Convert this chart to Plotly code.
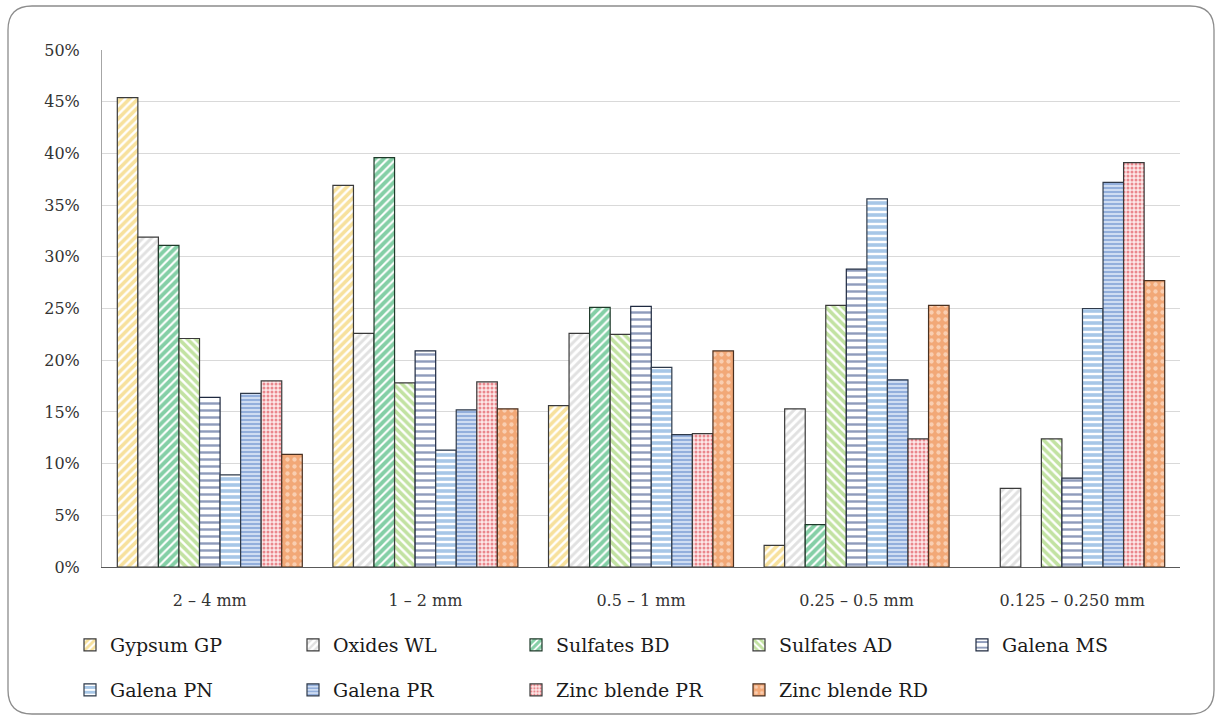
import plotly.graph_objects as go

categories = ["2 – 4 mm", "1 – 2 mm", "0.5 – 1 mm", "0.25 – 0.5 mm", "0.125 – 0.250 mm"]
series_names = ["Gypsum GP", "Oxides WL", "Sulfates BD", "Sulfates AD", "Galena MS",
                "Galena PN", "Galena PR", "Zinc blende PR", "Zinc blende RD"]
gypsum_gp = [45.4, 36.9, 15.6, 2.1, None]
oxides_wl = [31.9, 22.6, 22.6, 15.3, 7.6]
sulfates_bd = [31.1, 39.6, 25.1, 4.1, None]
sulfates_ad = [22.1, 17.8, 22.5, 25.3, 12.4]
galena_ms = [16.4, 20.9, 25.2, 28.8, 8.6]
galena_pn = [8.9, 11.3, 19.3, 35.6, 25.0]
galena_pr = [16.8, 15.2, 12.8, 18.1, 37.2]
zinc_pr = [18.0, 17.9, 12.9, 12.4, 39.1]
zinc_rd = [10.9, 15.3, 20.9, 25.3, 27.7]
y_ticks = [0, 5, 10, 15, 20, 25, 30, 35, 40, 45, 50]
y_tick_labels = ["0%", "5%", "10%", "15%", "20%", "25%", "30%", "35%", "40%", "45%", "50%"]

values = [gypsum_gp, oxides_wl, sulfates_bd, sulfates_ad, galena_ms,
          galena_pn, galena_pr, zinc_pr, zinc_rd]

# (shape, bgcolor, fgcolor, size, solidity, outline)
styles = [
    ("/", "#FFFFFF", "#F0C33C", 6, 0.6, "#3a3a3a"),
    ("/", "#FFFFFF", "#C4C4C4", 6, 0.5, "#3a3a3a"),
    ("/", "#FFFFFF", "#0AA04E", 6, 0.65, "#1f3a2a"),
    ("\\", "#FFFFFF", "#86C645", 6, 0.6, "#3a3a3a"),
    ("-", "#FFFFFF", "#1F3A78", 7, 0.35, "#1f2a40"),
    ("-", "#FFFFFF", "#4F8FD0", 6, 0.6, "#2f3a4a"),
    ("-", "#D6E2F4", "#4F7BC4", 4, 0.55, "#2f3a4a"),
    (".", "#FCE8E8", "#D82632", 4, 0.45, "#3a3a3a"),
    (".", "#F2A877", "#FFF4EC", 7, 0.3, "#4a3020"),
]

fig = go.Figure()
for i, (name, vals, st) in enumerate(zip(series_names, values, styles)):
    shape, bg, fg, size, sol, outline = st
    fig.add_trace(go.Bar(
        name=name, x=categories, y=vals,
        marker=dict(color=bg, line=dict(color=outline, width=1.2),
                    pattern=dict(shape=shape, bgcolor=bg, fgcolor=fg, size=size,
                                 solidity=sol, fillmode="overlay")),
        legend="legend" if i < 5 else "legend2",
        hoverinfo="skip",
    ))

ML, MR, MT, MB = 102, 36, 50, 149
W, H = 1216, 716
PW, PH = W - ML - MR, H - MT - MB


def fx(px):
    return (px - ML) / PW


def fy(py):
    return (H - MB - py) / PH


# rounded outer frame
L, T, R, B, r = 8, 6, 1214, 714, 24
path = (f"M {fx(L + r)},{fy(T)} L {fx(R - r)},{fy(T)} Q {fx(R)},{fy(T)} {fx(R)},{fy(T + r)} "
        f"L {fx(R)},{fy(B - r)} Q {fx(R)},{fy(B)} {fx(R - r)},{fy(B)} "
        f"L {fx(L + r)},{fy(B)} Q {fx(L)},{fy(B)} {fx(L)},{fy(B - r)} "
        f"L {fx(L)},{fy(T + r)} Q {fx(L)},{fy(T)} {fx(L + r)},{fy(T)} Z")

font_fam = "DejaVu Serif"
leg_common = dict(orientation="h", entrywidth=178, entrywidthmode="pixels",
                  font=dict(family=font_fam, size=19, color="#1a1a1a"),
                  bgcolor="rgba(0,0,0,0)", xanchor="left", yanchor="middle",
                  itemclick=False, itemdoubleclick=False)

fig.update_layout(
    width=W, height=H,
    margin=dict(l=ML, r=MR, t=MT, b=MB, autoexpand=False),
    paper_bgcolor="#FFFFFF", plot_bgcolor="#FFFFFF",
    barmode="group", bargap=0.142, bargroupgap=0,
    font=dict(family=font_fam, size=16, color="#333333"),
    xaxis=dict(showgrid=False, showline=True, linecolor="#595959", linewidth=1.3,
               ticks="", ticklabelstandoff=19,
               tickfont=dict(family=font_fam, size=16, color="#333333")),
    yaxis=dict(range=[0, 50], tickvals=y_ticks, ticktext=y_tick_labels,
               showgrid=True, gridcolor="#D9D9D9", gridwidth=1.2,
               showline=True, linecolor="#A6A6A6", linewidth=1,
               zeroline=False, ticks="", ticklabelstandoff=18,
               tickfont=dict(family=font_fam, size=16, color="#333333")),
    legend=dict(x=fx(70), y=fy(645), **leg_common),
    legend2=dict(x=fx(70), y=fy(690), **leg_common),
    shapes=[dict(type="path", xref="paper", yref="paper", path=path,
                 line=dict(color="#8C8C8C", width=1.3), fillcolor="rgba(0,0,0,0)",
                 layer="above")],
    showlegend=True,
)

fig.write_html("out.html", config={"displayModeBar": False},
               post_script="document.body.style.margin='0';")
